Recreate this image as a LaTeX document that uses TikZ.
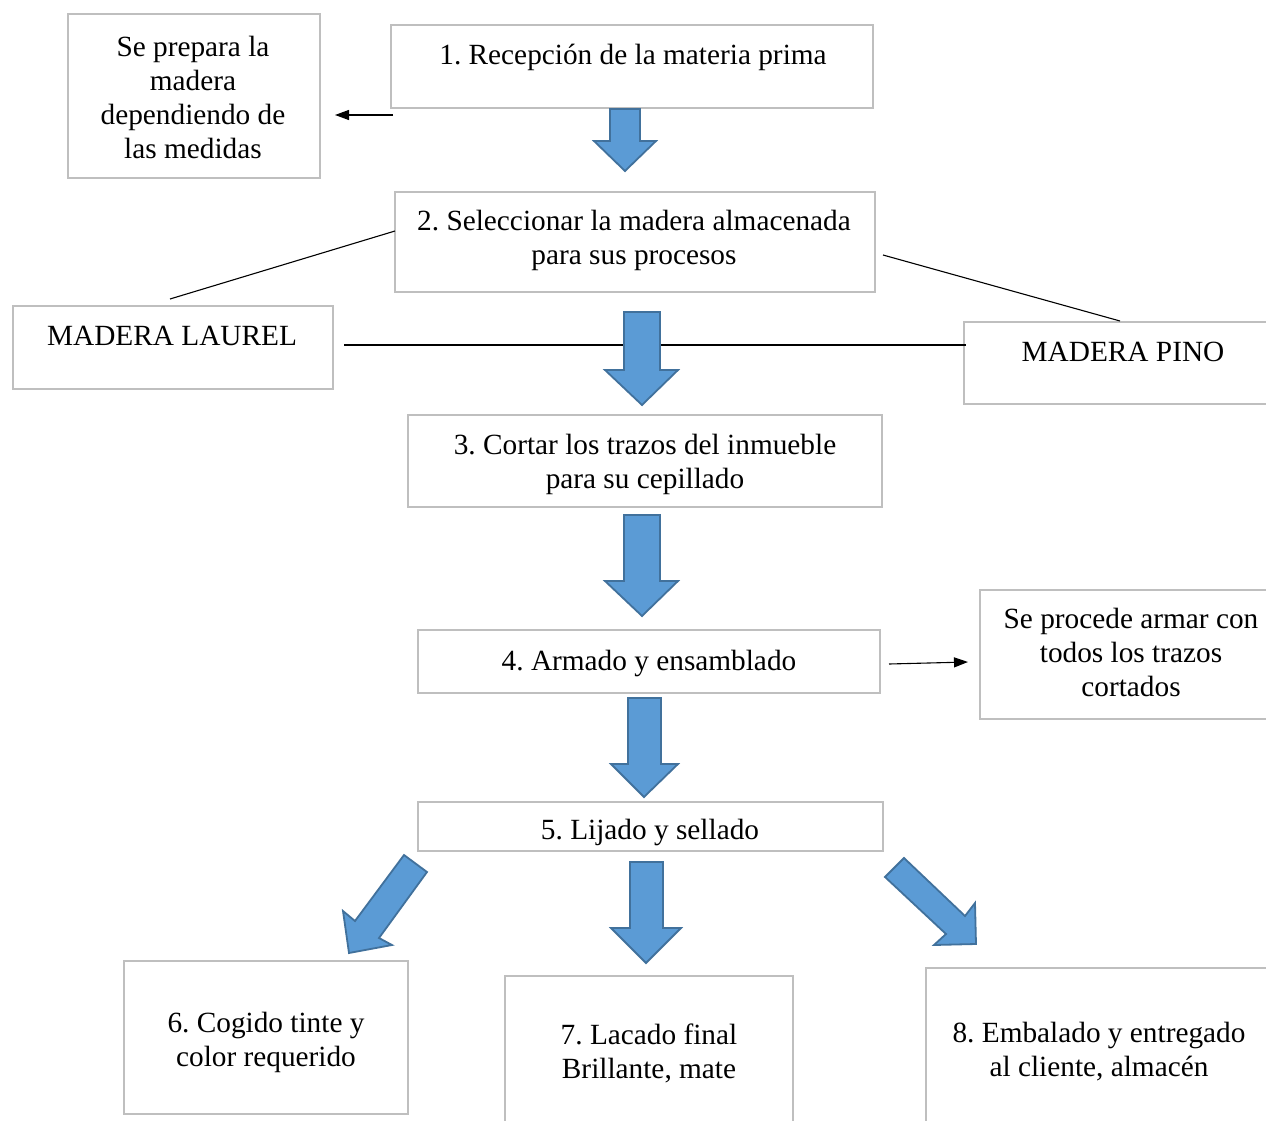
\documentclass[tikz,border=0pt]{standalone}
\usepackage{fontspec}
\setmainfont{Liberation Serif}
\usetikzlibrary{arrows.meta}
\definecolor{boxgray}{HTML}{BFBFBF}
\definecolor{arrfill}{HTML}{5B9BD5}
\definecolor{arrdraw}{HTML}{41719C}
\frenchspacing
\begin{document}
\begin{tikzpicture}[x=1pt,y=-1pt,
  box/.style={draw=boxgray,line width=1.6pt,inner sep=0pt},
  txt/.style={align=center,inner sep=0pt,font=\fontsize{29.3}{34}\selectfont},
  bluearrow/.style={fill=arrfill,draw=arrdraw,line width=1.8pt,line join=miter},
  conn/.style={black,line width=1.1pt},
  connarrow/.style={conn,-{Triangle[length=14pt,width=10pt]}}]
\useasboundingbox (0,0) rectangle (1266,1121);
\clip (0,0) rectangle (1266,1121);
\fill[white] (0,0) rectangle (1266,1121);

% boxes
\node[box,minimum width=252pt,minimum height=164pt] (bA) at (194,96) {};
\node[box,minimum width=482pt,minimum height=83pt] (bB) at (632,66.5) {};
\node[box,minimum width=480pt,minimum height=100pt] (bC) at (635,242) {};
\node[box,minimum width=320pt,minimum height=83pt] (bD) at (173,347.5) {};
\node[box,minimum width=326pt,minimum height=82pt] (bE) at (1127,363) {};
\node[box,minimum width=474pt,minimum height=92pt] (bF) at (645,461) {};
\node[box,minimum width=462pt,minimum height=63pt] (bG) at (649,661.5) {};
\node[box,minimum width=310pt,minimum height=129pt] (bH) at (1135,654.5) {};
\node[box,minimum width=465pt,minimum height=49pt] (bI) at (650.5,826.5) {};
\node[box,minimum width=284pt,minimum height=153pt] (bJ) at (266,1037.5) {};
\node[box,minimum width=288pt,minimum height=164pt] (bK) at (649,1058) {};
\node[box,minimum width=364pt,minimum height=172pt] (bL) at (1108,1054) {};

% texts
\node[txt] (tA) at (193,101) {\strut Se prepara la\\\strut madera\\\strut dependiendo de\\\strut las medidas};
\node[txt] (tB) at (633,58) {\strut 1. Recepción de la materia prima};
\node[txt] (tC) at (634,241) {\strut 2. Seleccionar la madera almacenada\\\strut para sus procesos};
\node[txt] (tD) at (172,339) {\strut MADERA LAUREL};
\node[txt] (tE) at (1123,355) {\strut MADERA PINO};
\node[txt] (tF) at (645,465) {\strut 3. Cortar los trazos del inmueble\\\strut para su cepillado};
\node[txt] (tG) at (649,664) {\strut 4. Armado y ensamblado};
\node[txt] (tH) at (1131,656) {\strut Se procede armar con\\\strut todos los trazos\\\strut cortados};
\node[txt] (tI) at (650,833) {\strut 5. Lijado y sellado};
\node[txt] (tJ) at (266,1043) {\strut 6. Cogido tinte y\\\strut color requerido};
\node[txt] (tK) at (649,1055) {\strut 7. Lacado final\\\strut Brillante, mate};
\node[txt] (tL) at (1099,1053) {\strut 8. Embalado y entregado\\\strut al cliente, almacén};

% connector end points
\coordinate (pB) at (393,115);
\coordinate (pA) at (335,115);
\coordinate (pC1) at (395,231);
\coordinate (pD1) at (170,299);
\coordinate (pC2) at (883,255);
\coordinate (pE1) at (1120,321);
\coordinate (pD2) at (344,345);
\coordinate (pE2) at (966,345);
\coordinate (pG) at (889,664);
\coordinate (pH) at (968,662);

\draw[connarrow] (pB) -- (pA);
\draw[conn] (pC1) -- (pD1);
\draw[conn] (pC2) -- (pE1);
\draw[conn] (pD2) -- (pE2);
\draw[connarrow] (pG) -- (pH);

% block arrows
\draw[bluearrow] (610,109) -- (640,109) -- (640,141) -- (656,141) -- (625,171) -- (594,141) -- (610,141) -- cycle;
\draw[bluearrow] (624,312) -- (660,312) -- (660,370) -- (678,370) -- (642,405) -- (605,370) -- (624,370) -- cycle;
\draw[bluearrow] (624,515) -- (660,515) -- (660,581) -- (678,581) -- (642,616) -- (605,581) -- (624,581) -- cycle;
\draw[bluearrow] (628,698) -- (661,698) -- (661,764) -- (678,764) -- (644,797) -- (611,764) -- (628,764) -- cycle;
\draw[bluearrow] (630,862) -- (663,862) -- (663,928) -- (681,928) -- (646,963) -- (611,928) -- (630,928) -- cycle;
\draw[bluearrow] (404,855) -- (427,872) -- (379,938) -- (392,945) -- (349,953) -- (343,911) -- (355,921) -- cycle;
\draw[bluearrow] (904,858) -- (965,916) -- (975,903) -- (976,944) -- (934,945) -- (946,934) -- (885,877) -- cycle;
\end{tikzpicture}
\end{document}
